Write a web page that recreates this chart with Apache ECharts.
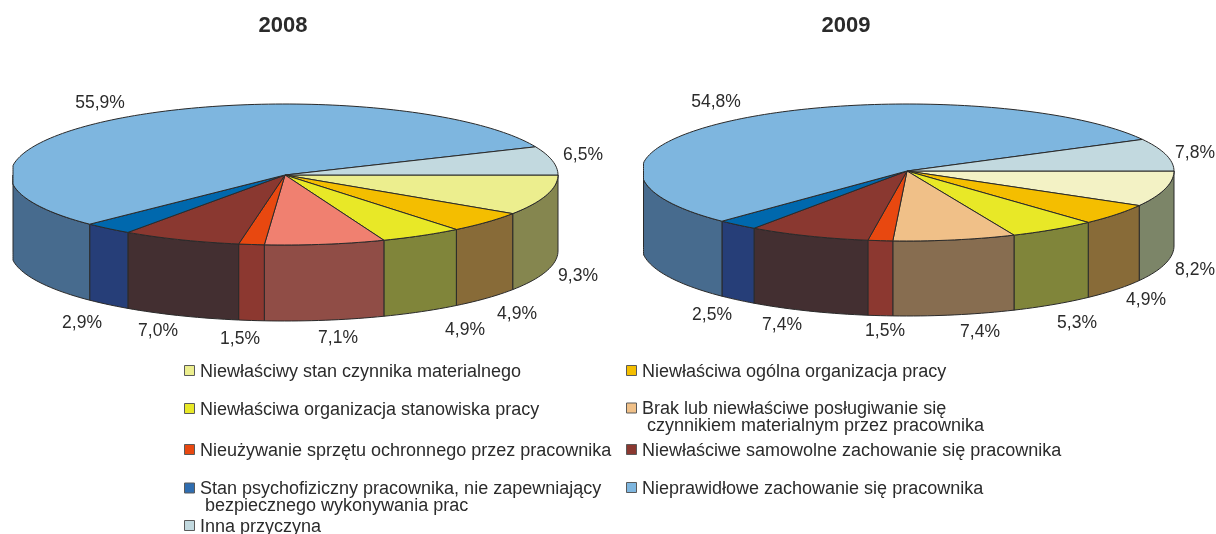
<!DOCTYPE html>
<html>
<head>
<meta charset="utf-8">
<style>
  html, body { margin: 0; padding: 0; background: #fff; }
  #chart { width: 1216px; height: 534px; }
</style>
<script src="https://cdn.jsdelivr.net/npm/echarts@6/dist/echarts.min.js"></script>
</head>
<body>
<div id="chart"></div>
<script>
var categories = [
  'Niewłaściwy stan czynnika materialnego',
  'Niewłaściwa ogólna organizacja pracy',
  'Niewłaściwa organizacja stanowiska pracy',
  'Brak lub niewłaściwe posługiwanie się\n czynnikiem materialnym przez pracownika',
  'Nieużywanie sprzętu ochronnego przez pracownika',
  'Niewłaściwe samowolne zachowanie się pracownika',
  'Stan psychofiziczny pracownika, nie zapewniający\n bezpiecznego wykonywania prac',
  'Nieprawidłowe zachowanie się pracownika',
  'Inna przyczyna'
];
var values2008 = [9.3, 4.9, 4.9, 7.1, 1.5, 7.0, 2.9, 55.9, 6.5];
var values2009 = [8.2, 4.9, 5.3, 7.4, 1.5, 7.4, 2.5, 54.8, 7.8];

var topColors2008 = ['#ECEE8E', '#F4BE00', '#E8E827', '#F08070', '#E84810', '#8A3830', '#0068AD', '#7EB6DF', '#C2D9DF'];
var sideColors2008 = ['#85864F', '#886B38', '#80853A', '#904D46', '#8C3830', '#432F31', '#263E78', '#476B8E', '#7A9299'];
var topColors2009 = ['#F3F2C5', '#F4BE00', '#E8E827', '#F0C088', '#E84810', '#8A3830', '#0068AD', '#7EB6DF', '#C2D9DF'];
var sideColors2009 = ['#7C8568', '#886B38', '#80853A', '#876D50', '#8C3830', '#432F31', '#263E78', '#476B8E', '#7A9299'];
var legendColors = ['#ECEE8E', '#F4BE00', '#E8E827', '#F0C088', '#E84810', '#8A3830', '#2F6DB0', '#7EB6DF', '#C2D9DF'];

// label centres, same order as the values
var labelPos2008 = [[578, 276], [517, 314], [465, 330], [338, 338], [240, 339], [158, 331], [82, 323], [100, 103], [583, 155]];
var labelPos2009 = [[1195, 270], [1146, 300], [1077, 323], [980, 332], [885, 331], [782, 325], [712, 315], [716, 102], [1195, 153]];

// legend rows [swatch x, text x, centre y], same order as categories
var legendPos = [
  [185, 200, 372], [627, 642, 372],
  [185, 200, 410], [627, 642, 418],
  [185, 200, 451], [627, 642, 451],
  [185, 200, 498], [627, 642, 489],
  [185, 200, 527]
];

var textColor = '#2b2b2b';
var fontFamily = '"Liberation Sans", Arial, sans-serif';

// the top disc is not a clean ellipse in the picture: radii differ per side and the left end is cut flat
function ellipsePoints(pie, a0, a1, dy) {
  var pts = [];
  var steps = Math.max(2, Math.ceil((a1 - a0) / 1.5));
  for (var i = 0; i <= steps; i++) {
    var a = (a0 + (a1 - a0) * i / steps) * Math.PI / 180;
    var c = Math.cos(a);
    var s = Math.sin(a);
    var x = pie.cx + (c < 0 ? pie.rxLeft : pie.rxRight) * c;
    pts.push([Math.max(x, pie.minX), pie.cy + (s < 0 ? pie.ryTop : pie.ryBottom) * s + dy]);
  }
  return pts;
}

function pieSeries(pie) {
  var total = pie.values.reduce(function (s, v) { return s + v; }, 0);
  var starts = [];
  var sum = 0;
  pie.values.forEach(function (v) {
    starts.push(sum / total * 360);
    sum += v;
  });
  return {
    type: 'custom',
    coordinateSystem: 'none',
    silent: true,
    animation: false,
    data: pie.values.map(function (v, i) { return { name: categories[i], value: v }; }),
    renderItem: function (params, api) {
      var i = params.dataIndex;
      var a0 = starts[i];
      var a1 = a0 + api.value(0) / total * 360;
      var lineStyle = { stroke: '#2a2a2a', lineWidth: 1 };
      var children = [];

      // side wall, only the front half can be seen
      var w0 = Math.max(a0, 0);
      var w1 = Math.min(a1, 180);
      if (w1 > w0) {
        var upper = ellipsePoints(pie, w0, w1, 0);
        var lower = ellipsePoints(pie, w0, w1, pie.depth).reverse();
        children.push({
          type: 'polygon',
          z2: 1,
          shape: { points: upper.concat(lower) },
          style: Object.assign({ fill: pie.sideColors[i] }, lineStyle)
        });
      }

      children.push({
        type: 'polygon',
        z2: 2,
        shape: { points: [[pie.cx, pie.cy]].concat(ellipsePoints(pie, a0, a1, 0)) },
        style: Object.assign({ fill: pie.topColors[i] }, lineStyle)
      });

      children.push({
        type: 'text',
        z2: 3,
        x: pie.labelPos[i][0],
        y: pie.labelPos[i][1],
        style: {
          text: api.value(0).toFixed(1).replace('.', ',') + '%',
          fill: textColor,
          font: '17.5px ' + fontFamily,
          align: 'center',
          verticalAlign: 'middle'
        }
      });
      return { type: 'group', children: children };
    }
  };
}

var legendItems = [];
categories.forEach(function (name, i) {
  var p = legendPos[i];
  var lines = name.split('\n').length;
  var firstLineY = p[2] - (lines - 1) * 8.5;
  legendItems.push({
    type: 'rect',
    shape: { x: p[0] - 0.5, y: firstLineY - 6.5, width: 10, height: 10 },
    style: { fill: legendColors[i], stroke: '#5a5a5a', lineWidth: 1 }
  });
  legendItems.push({
    type: 'text',
    x: p[1],
    y: p[2],
    style: {
      text: name,
      fill: textColor,
      font: '18px ' + fontFamily,
      lineHeight: 17,
      verticalAlign: 'middle'
    }
  });
});

var option = {
  backgroundColor: '#fff',
  animation: false,
  title: [
    { text: '2008', left: 278, top: 21, textAlign: 'center', textVerticalAlign: 'middle',
      textStyle: { color: textColor, fontSize: 22, fontWeight: 'bold', fontFamily: fontFamily } },
    { text: '2009', left: 841, top: 21, textAlign: 'center', textVerticalAlign: 'middle',
      textStyle: { color: textColor, fontSize: 22, fontWeight: 'bold', fontFamily: fontFamily } }
  ],
  graphic: legendItems,
  series: [
    pieSeries({ cx: 285, cy: 175, rxLeft: 274.5, rxRight: 273, minX: 13, ryTop: 71, ryBottom: 70, depth: 76, values: values2008, topColors: topColors2008, sideColors: sideColors2008, labelPos: labelPos2008 }),
    pieSeries({ cx: 907, cy: 171, rxLeft: 265.5, rxRight: 267, minX: 643.5, ryTop: 67, ryBottom: 70, depth: 75, values: values2009, topColors: topColors2009, sideColors: sideColors2009, labelPos: labelPos2009 })
  ]
};

var myChart = echarts.init(document.getElementById('chart'));
myChart.setOption(option);
</script>
</body>
</html>
